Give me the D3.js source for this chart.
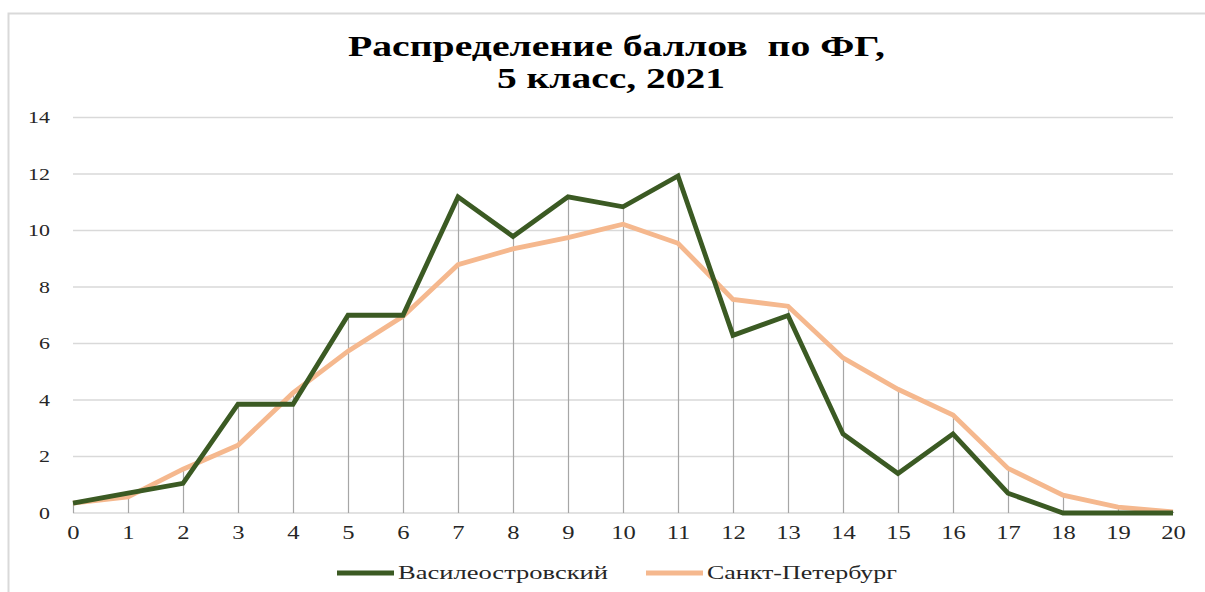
<!DOCTYPE html>
<html>
<head>
<meta charset="utf-8">
<script src="https://cdn.jsdelivr.net/npm/d3@7"></script>
<style>
  html, body { margin: 0; padding: 0; background: #fff; }
  svg { display: block; }
</style>
</head>
<body>
<svg id="chart" width="1205" height="592"></svg>
<script>
// ---- data ----
const scores = [0,1,2,3,4,5,6,7,8,9,10,11,12,13,14,15,16,17,18,19,20];
const vasileostrovsky = [0.35,0.70,1.05,3.85,3.85,7.00,7.00,11.19,9.79,11.19,10.84,11.93,6.29,6.99,2.80,1.40,2.80,0.70,0,0,0];
const spb = [0.35,0.57,1.55,2.40,4.25,5.73,6.96,8.79,9.35,9.75,10.22,9.55,7.56,7.32,5.49,4.38,3.47,1.58,0.63,0.21,0.04];
const yTicks = [0,2,4,6,8,10,12,14];
const seriesNames = ["Василеостровский", "Санкт-Петербург"];
const titleLines = ["Распределение баллов  по ФГ,", "5 класс, 2021"];

(function () {
const colors = ["#3b5a23", "#f5b88e"];
const series = [vasileostrovsky, spb];
const serif = "'Liberation Serif', 'Times New Roman', serif";
const stretch = 1.33;

const svg = d3.select("#chart");
const W = 1205, H = 592;
const pLeft = 73, pRight = 1173, pTop = 117.5, pBottom = 513;

// frame
svg.append("path")
  .attr("d", `M8.5,${H} L8.5,13.5 L${W},13.5`)
  .attr("fill", "none").attr("stroke", "#d9d9d9").attr("stroke-width", 2);

const x = d3.scaleLinear().domain([0, 20]).range([pLeft, pRight]);
const y = d3.scaleLinear().domain([0, 14]).range([pBottom, pTop]);

// gridlines
svg.append("g").selectAll("line").data(yTicks).join("line")
  .attr("x1", pLeft).attr("x2", pRight)
  .attr("y1", d => y(d)).attr("y2", d => y(d))
  .attr("stroke", "#d9d9d9").attr("stroke-width", 1.3);

// y axis labels
const yAxis = d3.axisLeft(y).tickValues(yTicks).tickSize(0).tickPadding(0);
const gy = svg.append("g").attr("transform", `translate(50,0)`).call(yAxis);
gy.select(".domain").remove();
gy.selectAll("text").attr("font-family", serif)
  .attr("font-size", 16.5).attr("fill", "#262626").attr("text-anchor", "end")
  .attr("x", 0).attr("dy", "0.32em").attr("transform", `scale(${stretch},1)`);

// x axis labels
const xAxis = d3.axisBottom(x).tickValues(scores).tickSize(0).tickPadding(0).tickFormat(d3.format("d"));
const gx = svg.append("g").attr("transform", `translate(0,${pBottom + 13})`).call(xAxis);
gx.select(".domain").remove();
gx.selectAll("text").attr("font-family", serif)
  .attr("font-size", 18.5).attr("fill", "#262626").attr("transform", `scale(${stretch},1)`);

// drop lines
svg.append("g").selectAll("line").data(scores).join("line")
  .attr("x1", d => x(d) + 0.5).attr("x2", d => x(d) + 0.5)
  .attr("y1", pBottom).attr("y2", (d, i) => y(Math.max(vasileostrovsky[i], spb[i])))
  .attr("stroke", "#a6a6a6").attr("stroke-width", 1.2);

// lines
const line = d3.line().x((d, i) => x(scores[i])).y(d => y(d));
[1, 0].forEach(k => {
  svg.append("path").datum(series[k])
    .attr("d", line)
    .attr("fill", "none")
    .attr("stroke", colors[k])
    .attr("stroke-width", 4.8)
    .attr("stroke-linejoin", "miter")
    .attr("stroke-linecap", "butt");
});

// title
const titleSpec = [
  { text: titleLines[0], cx: 616.5, y: 56, len: 537 },
  { text: titleLines[1], cx: 611, y: 88, len: 228 }
];
titleSpec.forEach(t => {
  svg.append("text")
    .attr("x", t.cx - t.len / 2).attr("y", t.y)
    .attr("font-family", serif).attr("font-weight", "bold").attr("font-size", 29.5)
    .attr("fill", "#000")
    .style("white-space", "pre")
    .attr("textLength", t.len).attr("lengthAdjust", "spacingAndGlyphs")
    .text(t.text);
});

// legend
const legendItems = [
  { name: seriesNames[0], color: colors[0], x0: 337, len: 210 },
  { name: seriesNames[1], color: colors[1], x0: 646, len: 190 }
];
const lg = svg.append("g");
legendItems.forEach(it => {
  lg.append("line").attr("x1", it.x0).attr("x2", it.x0 + 57)
    .attr("y1", 573).attr("y2", 573)
    .attr("stroke", it.color).attr("stroke-width", 4.8);
  lg.append("text").attr("x", it.x0 + 61).attr("y", 579)
    .attr("font-family", serif)
    .attr("font-size", 18.5).attr("fill", "#262626")
    .attr("textLength", it.len).attr("lengthAdjust", "spacingAndGlyphs")
    .text(it.name);
});
})();
</script>
</body>
</html>
